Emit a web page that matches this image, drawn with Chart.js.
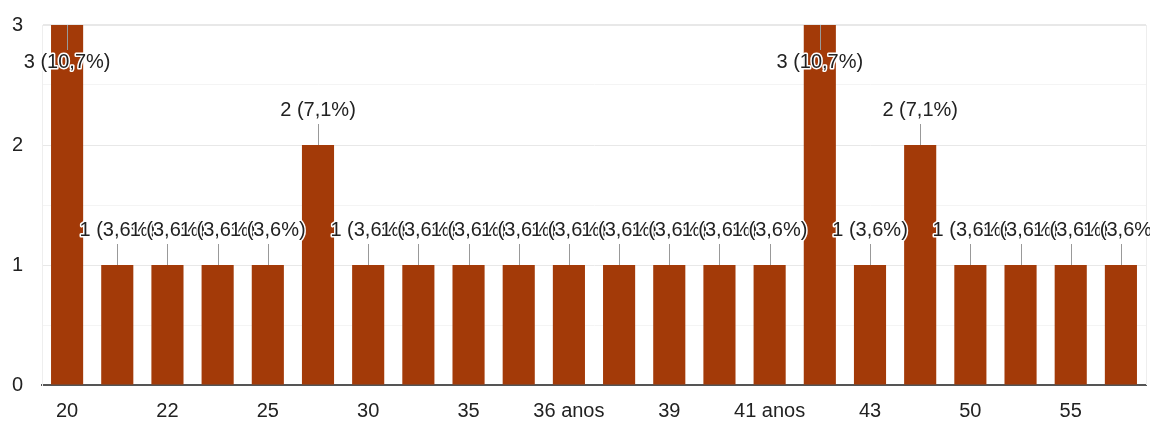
<!DOCTYPE html>
<html>
<head>
<meta charset="utf-8">
<script src="https://cdn.jsdelivr.net/npm/chart.js@4/dist/chart.umd.min.js"></script>
<style>
  html, body { margin: 0; padding: 0; background: #ffffff; }
  #wrap { width: 1150px; height: 423px; }
</style>
</head>
<body>
<div id="wrap"><canvas id="c" width="1150" height="423"></canvas></div>
<script>
const categories = ["20", "21", "22", "24", "25", "27", "30", "33", "35", "36", "36 anos", "37", "39", "40", "41 anos", "42", "43", "45", "50", "52", "55", "60"];
const counts = [3, 1, 1, 1, 1, 2, 1, 1, 1, 1, 1, 1, 1, 1, 1, 3, 1, 2, 1, 1, 1, 1];
const yTickValues = [0, 1, 2, 3];

const FONT = '"Liberation Sans", Arial, sans-serif';
const TEXT = '#222222';
const BAR = '#a33a08';

const total = counts.reduce((a, b) => a + b, 0);
function fmtLabel(v) {
  return v + ' (' + (v / total * 100).toFixed(1).replace('.', ',') + '%)';
}

const labelPlugin = {
  id: 'barLabels',
  afterDatasetsDraw(chart) {
    const ctx = chart.ctx;
    const area = chart.chartArea;
    const meta = chart.getDatasetMeta(0);
    const items = meta.data.map((bar, i) => {
      const v = counts[i];
      const top = bar.y;
      let cy, l1, l2;
      if (top - 46 < area.top) {
        cy = top + 37;
        l1 = top; l2 = cy - 12;
      } else {
        cy = top - 35;
        l1 = cy + 14; l2 = top;
      }
      return { x: bar.x, cy, l1, l2, text: fmtLabel(v) };
    });
    ctx.save();
    // right border line of plot
    ctx.strokeStyle = '#eeeeee';
    ctx.lineWidth = 1;
    ctx.beginPath();
    ctx.moveTo(Math.round(area.right) + 0.5, area.top);
    ctx.lineTo(Math.round(area.right) + 0.5, area.bottom);
    ctx.stroke();
    // leader lines
    ctx.strokeStyle = '#999999';
    ctx.lineWidth = 1;
    items.forEach(it => {
      const x = Math.round(it.x) + 0.5;
      ctx.beginPath();
      ctx.moveTo(x, it.l1);
      ctx.lineTo(x, it.l2);
      ctx.stroke();
    });
    // labels with white halo
    ctx.font = '20px ' + FONT;
    ctx.textAlign = 'center';
    ctx.textBaseline = 'middle';
    ctx.lineJoin = 'round';
    items.forEach(it => {
      ctx.strokeStyle = '#ffffff';
      ctx.lineWidth = 3;
      ctx.strokeText(it.text, it.x, it.cy);
      ctx.fillStyle = TEXT;
      ctx.fillText(it.text, it.x, it.cy);
    });
    ctx.restore();
  }
};

new Chart(document.getElementById('c'), {
  type: 'bar',
  data: {
    labels: categories,
    datasets: [{
      data: counts,
      backgroundColor: BAR,
      borderWidth: 0,
      barPercentage: 1,
      categoryPercentage: 0.64
    }]
  },
  options: {
    responsive: false,
    animation: false,
    devicePixelRatio: 1,
    layout: { padding: { top: 25, right: 4, left: 0, bottom: 0 } },
    plugins: { legend: { display: false }, tooltip: { enabled: false } },
    scales: {
      x: {
        afterFit(scale) { scale.height = 38; scale.paddingLeft = 0; scale.paddingRight = 0; },
        grid: { display: false, drawTicks: false },
        border: { display: true, color: '#555555', width: 2 },
        ticks: {
          autoSkip: false,
          maxRotation: 0,
          minRotation: 0,
          padding: 14,
          color: TEXT,
          font: { family: FONT, size: 20 },
          callback: (v, i) => (i % 2 === 0 ? categories[i] : '')
        }
      },
      y: {
        min: 0,
        max: 3,
        afterFit(scale) { scale.width = 42; scale.paddingTop = 0; scale.paddingBottom = 0; },
        afterBuildTicks(scale) {
          const t = [];
          for (let v = 0; v <= 3; v += 0.5) t.push({ value: v });
          scale.ticks = t;
        },
        grid: {
          drawTicks: false,
          color: (c) => {
            const v = c.tick ? c.tick.value : 0;
            if (v === 0) return 'rgba(0,0,0,0)';
            return yTickValues.includes(v) ? '#e8e8e8' : '#f4f4f4';
          },
          lineWidth: (c) => (c.tick && c.tick.value === 3 ? 2 : 1)
        },
        border: { display: true, color: '#eeeeee', width: 1 },
        ticks: {
          padding: 19,
          color: TEXT,
          font: { family: FONT, size: 20 },
          callback: (v) => (yTickValues.includes(v) ? String(v) : '')
        }
      }
    }
  },
  plugins: [labelPlugin]
});
</script>
</body>
</html>
